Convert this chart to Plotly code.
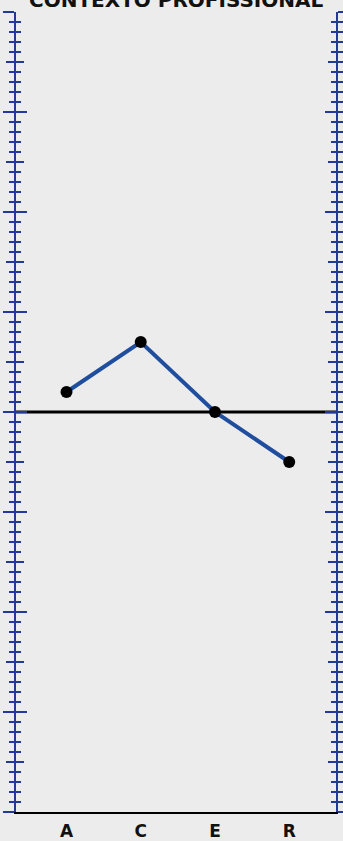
import plotly.graph_objects as go

# scales
categories = ["A", "C", "E", "R"]
scores = [2, 7, 0, -5]
title_text = "CONTEXTO PROFISSIONAL"
y_min, y_max = -40, 40

bg = "#ECECEC"
axis_blue = "#23399A"
line_blue = "#1F4E9E"

fig = go.Figure()

# reference line at zero, across the full plot width
fig.add_shape(type="line", xref="paper", x0=0, x1=1, yref="y", y0=0, y1=0,
              line=dict(color="black", width=3), layer="below")

fig.add_trace(go.Scatter(x=categories, y=scores, mode="lines+markers",
                         line=dict(color=line_blue, width=4),
                         marker=dict(size=12, color="black"),
                         showlegend=False, hoverinfo="skip"))


def tick_axis(side, ticks, dtick, ticklen, minor=True, overlay=True):
    ax = dict(range=[y_min, y_max], side=side, showgrid=False, zeroline=False,
              showticklabels=False, showline=True, linecolor=axis_blue, linewidth=2,
              ticks=ticks, dtick=dtick, tick0=0, ticklen=ticklen, tickwidth=2,
              tickcolor=axis_blue, fixedrange=True, automargin=False)
    if minor:
        ax["minor"] = dict(dtick=1, tick0=0, ticks=ticks, ticklen=5, tickwidth=2,
                           tickcolor=axis_blue, showgrid=False)
    if overlay:
        ax["overlaying"] = "y"
        ax["anchor"] = "x"
    return ax


layout_axes = {}
specs = [
    ("left", "outside", 10, 11, True),
    ("left", "inside", 10, 11, True),
    ("left", "outside", 5, 8, False),
    ("left", "inside", 5, 8, False),
    ("right", "outside", 10, 11, True),
    ("right", "inside", 10, 11, True),
    ("right", "outside", 5, 8, False),
    ("right", "inside", 5, 8, False),
]
for i, (side, ticks, dt, tl, mn) in enumerate(specs):
    name = "yaxis" if i == 0 else f"yaxis{i + 1}"
    layout_axes[name] = tick_axis(side, ticks, dt, tl, minor=mn, overlay=(i != 0))
    if i != 0:
        # empty trace so the overlay axis is drawn
        fig.add_trace(go.Scatter(x=[None], y=[None], yaxis=f"y{i + 1}",
                                 showlegend=False, hoverinfo="skip"))

fig.update_layout(
    width=343, height=841,
    margin=dict(l=16, r=7, t=12, b=29, autoexpand=False),
    paper_bgcolor=bg, plot_bgcolor=bg,
    xaxis=dict(type="category", range=[-0.68, 3.63], showgrid=False, zeroline=False,
               showline=True, linecolor="black", linewidth=2, ticks="",
               ticklabelstandoff=3, automargin=False,
               tickfont=dict(family="DejaVu Sans", size=17, color="#111111", weight="bold"),
               fixedrange=True),
    **layout_axes,
    annotations=[dict(text="<b>" + title_text + "</b>", xref="paper", yref="paper",
                      x=0.5, y=1, xanchor="center", yanchor="middle", yshift=12,
                      showarrow=False,
                      font=dict(family="DejaVu Sans", size=20, color="#111111"))],
)

fig.write_html("out.html", config={"displayModeBar": False},
               post_script="document.body.style.margin='0';document.body.style.background='#ECECEC';")
